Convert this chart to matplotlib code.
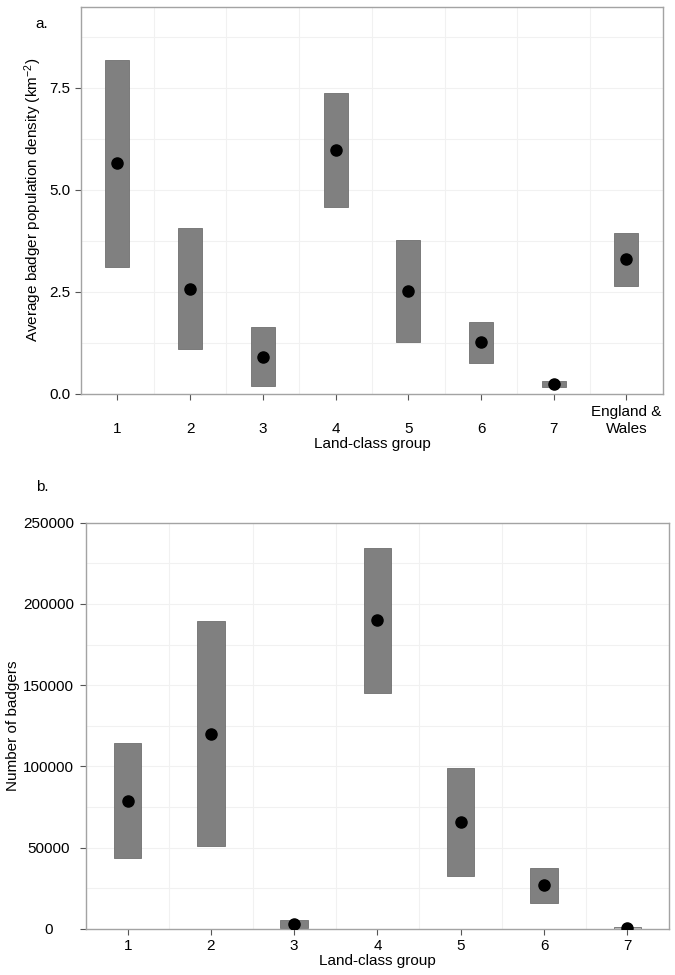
import matplotlib
matplotlib.use("Agg")
import matplotlib.pyplot as plt
from matplotlib.ticker import MultipleLocator

plt.rcParams['font.family'] = ['Liberation Sans', 'DejaVu Sans']
plt.rcParams['mathtext.default'] = 'regular'

# panel a: average density (km^-2)
groups_a = ["1", "2", "3", "4", "5", "6", "7", "England &\nWales"]
dens_mean = [5.65, 2.58, 0.91, 5.98, 2.52, 1.26, 0.25, 3.30]
dens_low = [3.12, 1.10, 0.20, 4.58, 1.27, 0.76, 0.18, 2.65]
dens_high = [8.17, 4.06, 1.64, 7.38, 3.78, 1.76, 0.32, 3.94]

# panel b: number of badgers
groups_b = ["1", "2", "3", "4", "5", "6", "7"]
num_mean = [79000, 120000, 2900, 190000, 65600, 26900, 600]
num_low = [43700, 51000, 500, 145400, 32400, 16000, 0]
num_high = [114600, 189300, 5400, 234400, 98900, 37500, 1400]

bar_w = 0.33
spine_col = "#a3a3a3"
grid_col = "#f1f1f1"

fig = plt.figure(figsize=(6.75, 9.75), dpi=100)
ax1 = fig.add_axes([0.120, 0.596, 0.862, 0.397])
ax2 = fig.add_axes([0.1274, 0.0472, 0.8636, 0.4168])


def style(ax, n):
    for s in ax.spines.values():
        s.set_color(spine_col)
        s.set_linewidth(1.0)
    ax.set_xlim(0.5, n + 0.5)
    ax.set_xticks(range(1, n + 1))
    ax.set_xticks([i + 0.5 for i in range(1, n)], minor=True)
    ax.grid(which='minor', axis='x', color=grid_col, lw=0.8)
    ax.grid(which='both', axis='y', color=grid_col, lw=0.8)
    ax.tick_params(which='minor', length=0)
    ax.tick_params(which='major', length=4, color="#555555", labelsize=11)
    ax.set_axisbelow(True)


def draw(ax, mean, low, high, colors):
    x = list(range(1, len(mean) + 1))
    heights = [h - l for h, l in zip(high, low)]
    ax.bar(x, heights, bottom=low, width=bar_w, color=colors,
           edgecolor="#6f6f6f", linewidth=0.6, zorder=2)
    ax.plot(x, mean, 'o', color='black', ms=8, zorder=3)


# panel a
style(ax1, len(groups_a))
draw(ax1, dens_mean, dens_low, dens_high, ["#808080"] * len(groups_a))
ax1.set_ylim(0, 9.48)
ax1.yaxis.set_major_locator(MultipleLocator(2.5))
ax1.yaxis.set_minor_locator(MultipleLocator(1.25))
ax1.yaxis.set_major_formatter(matplotlib.ticker.FormatStrFormatter('%.1f'))
ax1.set_xticklabels(groups_a)
ax1.tick_params(axis='x', which='major', pad=26)
for lab in ax1.get_xticklabels():
    lab.set_va('bottom')
    lab.set_multialignment('center')
ax1.set_xlabel("Land-class group", fontsize=11, labelpad=1)
ax1.set_ylabel("Average badger population density (km$^{-2}$)", fontsize=11, labelpad=4)
fig.text(0.062, 0.975, "a.", fontsize=11, ha='center', va='center')

# panel b
style(ax2, len(groups_b))
bcols = ["#808080"] * len(groups_b)
bcols[-1] = "#bdbdbd"
draw(ax2, num_mean, num_low, num_high, bcols)
ax2.set_ylim(0, 250000)
ax2.yaxis.set_major_locator(MultipleLocator(50000))
ax2.yaxis.set_minor_locator(MultipleLocator(25000))
ax2.set_xticklabels(groups_b)
ax2.tick_params(axis='x', which='major', pad=3)
ax2.tick_params(axis='y', which='major', pad=23)
for lab in ax2.get_yticklabels():
    lab.set_ha('center')
ax2.set_xlabel("Land-class group", fontsize=11, labelpad=1)
ax2.set_ylabel("Number of badgers", fontsize=11, labelpad=2)
fig.text(0.062, 0.501, "b.", fontsize=11, ha='center', va='center')

fig.savefig("out.png", dpi=100)
